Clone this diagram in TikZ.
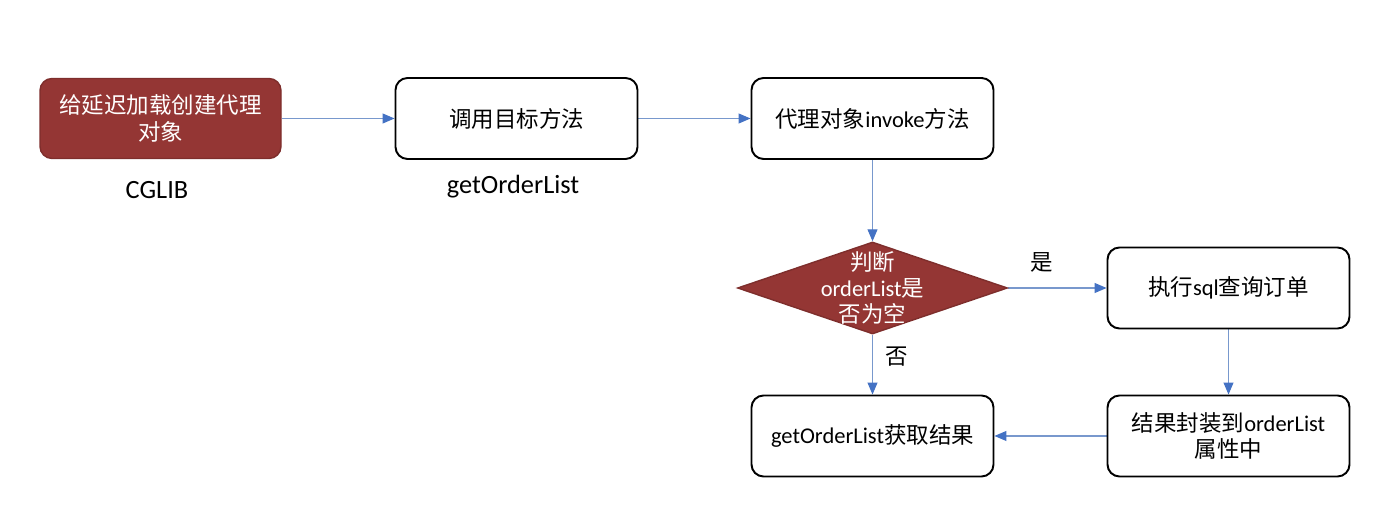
\documentclass[tikz,border=0pt]{standalone}
\usepackage{fontspec}
\setmainfont{Carlito}
\newfontfamily\cjk{Noto Sans CJK SC}
\usetikzlibrary{shapes.geometric,arrows.meta}
\pgfdeclarelayer{edgelayer}
\pgfdeclarelayer{nodelayer}
\pgfsetlayers{edgelayer,nodelayer,main}
\definecolor{boxred}{RGB}{148,54,52}
\definecolor{linkblue}{RGB}{120,152,205}
\definecolor{tipblue}{RGB}{68,114,196}
\tikzstyle{none} = []
\tikzstyle{Red Box}=[fill=boxred, draw=boxred!85!black, line width=0.8pt, rounded corners=0.24cm, minimum width=4.82cm, minimum height=1.6cm, text=white, align=center, font=\fontsize{12.8}{15}\selectfont]
\tikzstyle{White Box}=[fill=white, draw=black, line width=1.1pt, rounded corners=0.24cm, minimum width=4.84cm, minimum height=1.62cm, align=center, font=\fontsize{12.8}{15}\selectfont]
\tikzstyle{Red Diamond}=[shape=diamond, fill=boxred, draw=boxred!85!black, line width=0.8pt, minimum width=5.4cm, minimum height=1.84cm, inner sep=0pt]
\tikzstyle{White Text}=[text=white, align=center, font=\fontsize{12.8}{15}\selectfont]
\tikzstyle{Caption}=[font=\fontsize{15}{17}\selectfont]
\tikzstyle{Blue Arrow}=[-{Triangle[length=0.24cm, width=0.2cm, color=tipblue]}, draw=linkblue, line width=0.6pt]

\begin{document}
\begin{tikzpicture}
	\useasboundingbox (0, 0) rectangle (27.98, 10.26);
	\begin{pgfonlayer}{nodelayer}
		\node [style=Red Box] (0) at (3.21, 7.89) {{\cjk 给延迟加载创建代理}\\{\cjk 对象}};
		\node [style=White Box] (1) at (10.33, 7.89) {{\cjk 调用目标方法}};
		\node [style=White Box] (2) at (17.45, 7.89) {{\cjk 代理对象}invoke{\cjk 方法}};
		\node [style=Red Diamond] (3) at (17.45, 4.5) {};
		\node [style=White Text] (4) at (3) {{\cjk 判断}\\orderList{\cjk 是}\\{\cjk 否为空}};
		\node [style=White Box] (5) at (24.57, 4.5) {{\cjk 执行}sql{\cjk 查询订单}};
		\node [style=White Box] (6) at (17.45, 1.54) {getOrderList{\cjk 获取结果}};
		\node [style=White Box] (7) at (24.57, 1.54) {{\cjk 结果封装到}orderList\\{\cjk 属性中}};
		\node [style=Caption] (8) at (3.14, 6.46) {CGLIB};
		\node [style=Caption] (9) at (10.26, 6.52) {getOrderList};
		\node [style=none, font=\fontsize{12.8}{15}\selectfont] (10) at (20.84, 5.02) {{\cjk 是}};
		\node [style=none, font=\fontsize{12.8}{15}\selectfont] (11) at (17.94, 3.12) {{\cjk 否}};
	\end{pgfonlayer}
	\begin{pgfonlayer}{edgelayer}
		\draw [style=Blue Arrow] (0) to (1);
		\draw [style=Blue Arrow] (1) to (2);
		\draw [style=Blue Arrow] (2) to (3);
		\draw [style=Blue Arrow] (3) to (5);
		\draw [style=Blue Arrow] (3) to (6);
		\draw [style=Blue Arrow] (5) to (7);
		\draw [style=Blue Arrow] (7) to (6);
	\end{pgfonlayer}
\end{tikzpicture}
\end{document}
